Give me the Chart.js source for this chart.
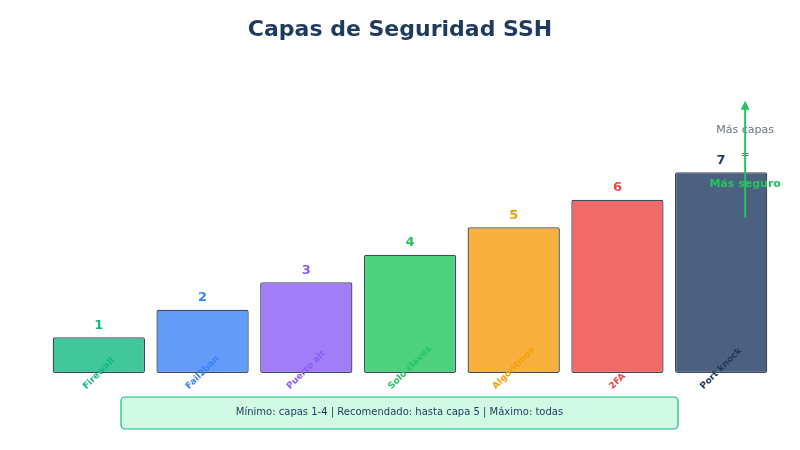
<!DOCTYPE html>
<html>
<head>
<meta charset="utf-8">
<script src="https://cdn.jsdelivr.net/npm/chart.js@4/dist/chart.umd.min.js"></script>
<style>
  html, body { margin: 0; padding: 0; background: #ffffff; }
  #wrap { width: 800px; height: 450px; }
</style>
</head>
<body>
<div id="wrap"><canvas id="myChart"></canvas></div>
<script>
const labels = ["Firewall", "Fail2ban", "Puerto alt", "Solo claves", "Algoritmos", "2FA", "Port knock"];
const layers = [1, 2, 3, 4, 5, 6, 7];
const barColors = [
  "rgba(16,185,129,0.8)", "rgba(59,130,246,0.8)", "rgba(139,92,246,0.8)",
  "rgba(34,197,94,0.8)", "rgba(245,158,11,0.8)", "rgba(239,68,68,0.8)", "rgba(30,58,95,0.8)"
];
const textColors = ["#10b981", "#3b82f6", "#8b5cf6", "#22c55e", "#f59e0b", "#ef4444", "#1e3a5f"];
const yMin = -0.3;
const yMax = 9.5;
const arrowFrom = 5.35;
const arrowTo = 9.6;
const titleText = "Capas de Seguridad SSH";
const noteText = "Mínimo: capas 1-4 | Recomendado: hasta capa 5 | Máximo: todas";

const FONT = "'DejaVu Sans', sans-serif";

const decorations = {
  id: "decorations",
  afterDatasetsDraw(chart) {
    const ctx = chart.ctx;
    const x = chart.scales.x;
    const y = chart.scales.y;
    ctx.save();
    ctx.textAlign = "center";
    ctx.textBaseline = "middle";

    // title
    ctx.fillStyle = "#1e3a5f";
    ctx.font = "bold 22px " + FONT;
    ctx.fillText(titleText, chart.width / 2, 30);

    // value labels above bars and rotated category labels below
    layers.forEach((v, i) => {
      const px = x.getPixelForValue(i);
      ctx.fillStyle = textColors[i];
      ctx.font = "bold 13px " + FONT;
      ctx.fillText(String(v), px, y.getPixelForValue(v) - 12);

      ctx.font = "bold 9px " + FONT;
      const w = ctx.measureText(labels[i]).width;
      const half = (w + 9) / (2 * Math.SQRT2);
      ctx.save();
      ctx.translate(px, 391 - half);
      ctx.rotate(-Math.PI / 4);
      ctx.fillText(labels[i], 0, 0);
      ctx.restore();
    });

    // note box
    const bx = 121, by = 397, bw = 557, bh = 32;
    ctx.beginPath();
    ctx.roundRect(bx, by, bw, bh, 4);
    ctx.fillStyle = "#d1fae5";
    ctx.fill();
    ctx.lineWidth = 1.2;
    ctx.strokeStyle = "#10b981";
    ctx.stroke();
    ctx.fillStyle = "#1e3a5f";
    ctx.font = "10px " + FONT;
    ctx.fillText(noteText, bx + bw / 2, by + bh / 2 - 1);

    // arrow annotation
    const ax = x.getPixelForValue(6) + 24;
    const yTop = y.getPixelForValue(arrowTo);
    const yBot = y.getPixelForValue(arrowFrom);
    ctx.font = "11px " + FONT;
    ctx.fillStyle = "#6b7280";
    ctx.fillText("Más capas", ax, yTop + 29);
    ctx.fillText("=", ax, yTop + 54);
    ctx.font = "bold 11px " + FONT;
    ctx.fillStyle = "#22c55e";
    ctx.fillText("Más seguro", ax, yTop + 83);

    ctx.strokeStyle = "#22c55e";
    ctx.lineWidth = 2;
    ctx.beginPath();
    ctx.moveTo(ax, yBot);
    ctx.lineTo(ax, yTop + 6);
    ctx.stroke();
    ctx.beginPath();
    ctx.moveTo(ax, yTop);
    ctx.lineTo(ax - 4.5, yTop + 9);
    ctx.lineTo(ax + 4.5, yTop + 9);
    ctx.closePath();
    ctx.fillStyle = "#22c55e";
    ctx.fill();

    ctx.restore();
  }
};

new Chart(document.getElementById("myChart"), {
  type: "bar",
  data: {
    labels: labels,
    datasets: [{
      data: layers,
      base: yMin,
      backgroundColor: barColors,
      borderColor: "#3f4a5a",
      borderWidth: 1.3,
      borderRadius: 2,
      borderSkipped: false,
      categoryPercentage: 1,
      barPercentage: 0.89
    }]
  },
  options: {
    responsive: true,
    maintainAspectRatio: false,
    animation: false,
    layout: { padding: { left: 47, right: 27, top: 103.5, bottom: 77 } },
    plugins: {
      legend: { display: false },
      tooltip: { enabled: false },
      title: { display: false }
    },
    scales: {
      x: { display: false, grid: { display: false } },
      y: { display: false, min: yMin, max: yMax, grid: { display: false } }
    }
  },
  plugins: [decorations]
});
</script>
</body>
</html>
